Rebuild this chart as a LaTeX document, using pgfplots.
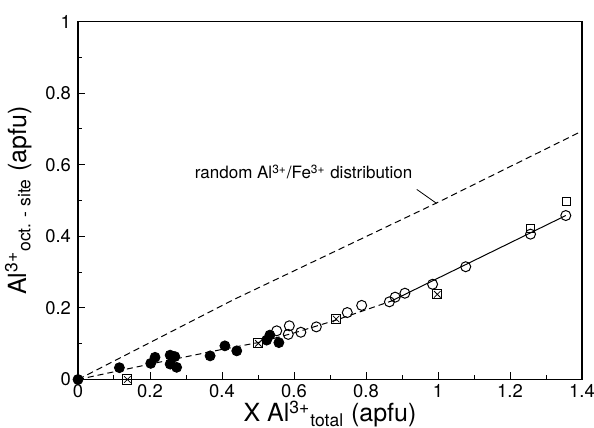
\documentclass[border=0pt]{standalone}
\usepackage{fontspec}
\setmainfont{TeX Gyre Heros}
\usepackage{pgfplots}
\usepackage{pgfplotstable}
\pgfplotsset{compat=1.18}

% filled circles
\pgfplotstableread{
x y
0.000 0.000
0.115 0.033
0.202 0.045
0.214 0.062
0.256 0.068
0.256 0.043
0.269 0.064
0.274 0.034
0.367 0.066
0.408 0.094
0.441 0.080
0.524 0.110
0.533 0.124
0.558 0.103
}\filled
% open circles
\pgfplotstableread{
x y
0.552 0.136
0.587 0.150
0.584 0.126
0.619 0.132
0.662 0.147
0.748 0.187
0.788 0.207
0.865 0.217
0.881 0.230
0.908 0.241
0.985 0.266
1.077 0.315
1.257 0.406
1.355 0.458
}\opencirc
% open squares
\pgfplotstableread{
x y
1.257 0.422
1.357 0.497
}\opensq
% crossed squares
\pgfplotstableread{
x y
0.137 0.000
0.501 0.101
0.717 0.169
0.998 0.238
}\crosssq

\begin{document}
\begin{tikzpicture}
\begin{axis}[
    scale only axis,
    width=252pt, height=179pt,
    xmin=0, xmax=1.4, ymin=0, ymax=1,
    xtick={0,0.2,0.4,0.6,0.8,1,1.2,1.4},
    ytick={0,0.2,0.4,0.6,0.8,1},
    minor x tick num=1, minor y tick num=1,
    tick align=inside,
    xtick pos=bottom, ytick pos=left,
    major tick length=3.5pt, minor tick length=2pt,
    tick style={black, line width=0.5pt},
    axis line style={line width=0.6pt},
    /pgf/number format/assume math mode=true,
    ticklabel style={font=\fontsize{9.2}{11}\selectfont},
    xticklabel style={yshift=1pt},
    xlabel={X Al\textsuperscript{3+}\textsubscript{total} (apfu)},
    ylabel={Al\textsuperscript{3+}\textsubscript{oct. - site} (apfu)},
    label style={font=\fontsize{12.5}{14}\selectfont},
    xlabel style={yshift=5.5pt},
    clip=false,
]
% random distribution line
\addplot[black, line width=0.5pt, dash pattern=on 3.2pt off 2pt] coordinates {
    (0,0) (0.43,0.222) (1.0,0.495) (1.4,0.694)
};
% fit line, dashed part
\addplot[black, line width=0.5pt, dash pattern=on 3pt off 2pt] coordinates {
    (0,0) (0.2,0.043) (0.4,0.084) (0.5,0.103) (0.6,0.130) (0.72,0.167) (0.87,0.219)
};
% fit line, solid part
\addplot[black, line width=0.5pt] coordinates {
    (0.87,0.219) (1.355,0.458)
};
\addplot[only marks, mark=*, mark size=2.5pt, black] table {\filled};
\addplot[only marks, mark=o, mark size=2.5pt, black, mark options={fill=white, line width=0.5pt}] table {\opencirc};
\addplot[only marks, mark=square, mark size=2pt, black, mark options={line width=0.5pt}] table {\opensq};
\addplot[only marks, mark=square, mark size=2.3pt, black, mark options={fill=white, line width=0.5pt}] table {\crosssq};
\addplot[only marks, mark=x, mark size=2.3pt, black, mark options={line width=0.4pt}] table {\crosssq};
\draw[black, line width=0.4pt] (axis cs:0.941,0.531) -- (axis cs:0.996,0.492);
\node[anchor=east, font=\fontsize{8.5}{10}\selectfont, inner sep=0pt] at (axis cs:0.93,0.58)
    {random Al\textsuperscript{3+}/Fe\textsuperscript{3+} distribution};
\coordinate (ll) at (rel axis cs:0,0);
\coordinate (ur) at (rel axis cs:1,1);
\end{axis}
\pgfresetboundingbox
\useasboundingbox ([shift={(-39pt,-24.25pt)}]ll) rectangle ([shift={(6pt,10.75pt)}]ur);
\end{tikzpicture}
\end{document}
